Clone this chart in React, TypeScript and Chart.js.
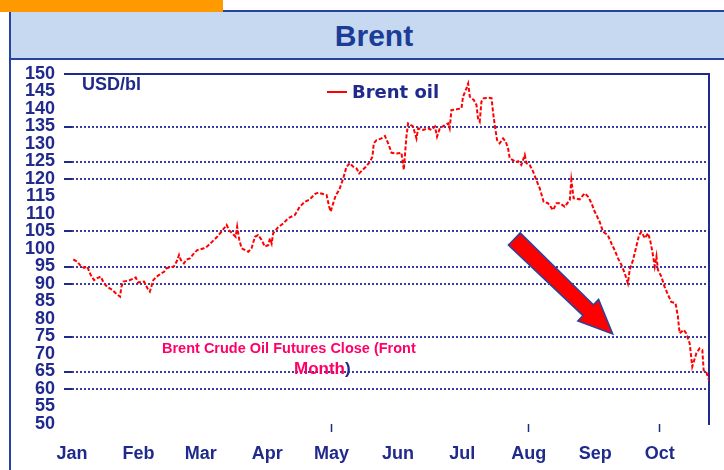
import React, { useEffect, useRef } from 'react';
import { Chart, registerables } from 'chart.js';

Chart.register(...registerables);

// ---------- data ----------
const chartTitle = 'Brent';
const unitLabel = 'USD/bl';
const seriesLabel = 'Brent oil';
const noteLine1 = 'Brent Crude Oil Futures Close (Front';
const noteLine2 = 'Month';

const monthLabels = ['Jan', 'Feb', 'Mar', 'Apr', 'May', 'Jun', 'Jul', 'Aug', 'Sep', 'Oct'];
// day-of-year (2008, Jan 1 = 0) at which each month starts
const monthStartDays = [0, 31, 60, 91, 121, 152, 182, 213, 244, 274];
const tickMarkMonths = ['May', 'Aug', 'Oct'];

const yMin = 50;
const yMax = 150;
const yStep = 5;
const xMin = 0;
const xMax = 297;
const gridValues = [135, 125, 120, 105, 95, 90, 75, 65, 60];

// day-of-year of each close
const days = [
  0.6, 2.5, 3.7, 5.6, 7.1, 8.7, 10.3, 11.8, 13.4, 14.9, 16.4, 18.8, 20.8, 22.4, 23.0, 23.9,
  26.6, 28.9, 29.7, 30.8, 33.6, 35.4, 36.3, 37.9, 39.5, 41.3, 42.9, 44.1, 47.5, 48.8, 49.9,
  50.7, 52.2, 53.4, 55.0, 56.9, 58.4, 61.5, 63.0, 65.4, 67.7, 70.0, 72.1, 73.2, 74.7, 76.3,
  77.0, 78.0, 79.1, 82.2, 83.7, 85.3, 86.8, 88.4, 89.9, 91.5, 92.3, 93.1, 93.8, 96.1, 98.5,
  100.8, 103.9, 106.2, 108.6, 110.9, 113.2, 114.8, 117.1, 118.7, 119.9, 120.6, 121.8, 123.0,
  124.6, 125.7, 126.7, 128.0, 129.5, 131.1, 132.7, 133.9, 135.5, 137.0, 138.9, 140.1, 140.7,
  142.0, 144.3, 145.9, 147.4, 149.0, 151.3, 153.6, 154.7, 155.9, 156.7, 159.0, 160.6, 161.4,
  163.7, 166.0, 167.6, 169.2, 170.2, 171.5, 173.8, 175.4, 176.1, 176.9, 179.3, 181.6, 182.3,
  183.9, 184.7, 185.5, 187.3, 188.6, 189.3, 190.1, 190.9, 192.0, 194.0, 195.6, 196.3, 197.1,
  198.2, 199.4, 201.0, 202.2, 203.3, 204.1, 205.6, 206.9, 208.0, 209.5, 211.1, 211.9, 213.4,
  215.0, 216.5, 218.1, 219.9, 221.9, 224.3, 225.9, 227.4, 229.7, 232.1, 232.8, 233.9, 236.7,
  239.0, 240.6, 242.2, 243.7, 246.0, 247.6, 249.8, 251.5, 253.0, 254.6, 256.2, 257.7, 259.2,
  260.0, 261.6, 263.1, 264.4, 265.5, 267.1, 268.6, 269.7, 270.6, 271.7, 272.5, 273.2, 274.8,
  276.3, 277.9, 279.4, 281.4, 282.5, 283.3, 285.2, 286.4, 288.0, 289.2, 291.1, 292.6, 293.9,
  294.5, 295.8, 297.3,
];

// Brent close, USD/bl
const prices = [
  97.0, 96.4, 95.4, 94.6, 95.0, 92.6, 91.1, 91.7, 92.1, 90.2, 89.2, 88.3, 87.1, 86.4, 89.1, 90.7,
  91.0, 91.6, 91.9, 90.4, 90.7, 88.5, 87.8, 91.1, 92.1, 92.9, 93.5, 94.5, 95.0, 96.4, 98.3,
  96.9, 95.9, 97.0, 97.3, 98.8, 99.7, 100.2, 100.7, 102.1, 103.5, 105.2, 106.9, 105.4, 104.5, 103.5,
  106.4, 102.6, 100.2, 99.2, 100.2, 103.5, 104.0, 102.6, 100.7, 101.1, 103.1, 101.6, 104.5, 106.2, 107.3,
  108.8, 109.7, 112.1, 113.5, 114.2, 115.7, 116.1, 115.7, 115.4, 112.1, 110.7, 113.1, 115.4,
  116.9, 118.8, 120.7, 123.5, 124.5, 123.5, 123.0, 121.6, 122.6, 123.5, 124.9, 126.4, 130.2,
  131.1, 131.6, 132.3, 130.2, 127.5, 127.3, 127.5, 122.6, 132.0, 135.9, 135.0, 131.6, 134.5,
  134.0, 134.5, 134.0, 135.0, 132.1, 134.5, 135.4, 135.9, 134.5, 139.7, 139.9, 140.2, 143.5,
  145.9, 147.3, 143.5, 142.6, 141.1, 137.3, 136.4, 142.1, 143.1, 143.2, 143.1, 139.2, 135.4,
  131.1, 130.2, 131.6, 130.7, 128.8, 125.9, 125.4, 124.8, 125.1, 124.0, 126.9, 124.5, 124.0,
  122.1, 119.7, 117.3, 113.5, 113.1, 111.1, 113.1, 113.1, 112.1, 114.0, 119.7, 114.5, 114.2,
  115.9, 115.0, 113.1, 110.7, 107.8, 104.9, 104.0, 101.6, 99.7, 97.3, 95.4, 93.1, 90.2,
  94.0, 96.9, 100.7, 104.0, 104.9, 103.1, 104.5, 102.1, 99.2, 95.0, 97.9, 94.0, 92.1,
  89.2, 86.9, 84.9, 84.5, 80.7, 75.9, 76.9, 75.9, 73.0, 66.4, 70.2, 71.6, 71.1,
  65.4, 64.7, 62.1,
];

// ---------- styles ----------
const NAVY = '#1f2a8c';
const GRID = '#3a3aa0';
const PANEL = '#2544a0';
const TITLE_BLUE = '#1b3d98';
const BAND = '#c6d9f1';
const ORANGE = '#ff9900';
const LINE_RED = '#ff0000';
const PINK = '#ff0066';

export default function App() {
  const canvasRef = useRef<HTMLCanvasElement | null>(null);

  useEffect(() => {
    const canvas = canvasRef.current;
    if (!canvas) return;
    const points = days.map((d, i) => ({ x: d, y: prices[i] }));
    const axisFont = { family: 'Liberation Sans, Arial, sans-serif', weight: 'bold' as const, size: 18 };

    const chart = new Chart(canvas, {
      type: 'line',
      data: {
        datasets: [
          {
            label: seriesLabel,
            data: points,
            borderColor: LINE_RED,
            backgroundColor: LINE_RED,
            borderWidth: 2,
            borderDash: [4, 2],
            pointRadius: 0,
            tension: 0,
            xAxisID: 'x',
            yAxisID: 'y',
          },
        ],
      },
      options: {
        responsive: false,
        maintainAspectRatio: false,
        animation: false,
        events: [],
        layout: { padding: 0 },
        plugins: {
          tooltip: { enabled: false },
          legend: { display: false },
        },
        scales: {
          x: {
            type: 'linear',
            position: 'bottom',
            min: xMin,
            max: xMax,
            afterBuildTicks: (s: any) => {
              s.ticks = monthStartDays.map((v) => ({ value: v }));
            },
            afterFit: (s: any) => {
              s.height = 46;
            },
            ticks: {
              autoSkip: false,
              maxRotation: 0,
              minRotation: 0,
              padding: 11,
              color: NAVY,
              font: axisFont,
              callback: (_v: any, i: number) => monthLabels[i],
            },
            grid: {
              display: true,
              drawOnChartArea: false,
              drawTicks: true,
              tickLength: 8,
              tickWidth: 1.5,
              tickColor: (ctx: any) =>
                ctx.index !== undefined && tickMarkMonths.includes(monthLabels[ctx.index]) ? NAVY : 'transparent',
            },
            border: { display: false },
          },
          x2: {
            type: 'linear',
            position: 'top',
            min: 0,
            max: 1,
            afterFit: (s: any) => {
              s.height = 74;
            },
            ticks: { display: false },
            grid: { display: true, drawOnChartArea: false, drawTicks: false, color: 'transparent' },
            border: { display: true, color: NAVY, width: 2 },
          },
          y: {
            type: 'linear',
            position: 'left',
            min: yMin,
            max: yMax,
            afterFit: (s: any) => {
              s.width = 72;
            },
            ticks: {
              stepSize: yStep,
              autoSkip: false,
              padding: 9,
              color: NAVY,
              font: axisFont,
            },
            grid: {
              display: true,
              drawOnChartArea: true,
              drawTicks: true,
              tickLength: 8,
              lineWidth: 2,
              tickWidth: 2,
              color: (ctx: any) => (ctx.tick && gridValues.includes(ctx.tick.value) ? GRID : 'transparent'),
              tickColor: (ctx: any) =>
                ctx.tick && (gridValues.includes(ctx.tick.value) || ctx.tick.value === yMax) ? NAVY : 'transparent',
            },
            border: { display: false, dash: [2, 2] },
          },
          y2: {
            type: 'linear',
            position: 'right',
            min: yMin,
            max: yMax,
            afterFit: (s: any) => {
              s.width = 15;
            },
            ticks: { display: false },
            grid: { display: true, drawOnChartArea: false, drawTicks: false, color: 'transparent' },
            border: { display: true, color: NAVY, width: 2 },
          },
        },
      } as any,
    });

    return () => {
      chart.destroy();
    };
  }, []);

  return (
    <div
      style={{
        position: 'absolute',
        left: 0,
        top: 0,
        width: 724,
        height: 470,
        overflow: 'hidden',
        background: '#ffffff',
        fontFamily: 'Liberation Sans, Arial, sans-serif',
      }}
    >
      {/* panel frame */}
      <div
        style={{
          position: 'absolute',
          left: 9,
          top: 10,
          width: 800,
          height: 520,
          border: `2px solid ${PANEL}`,
          boxSizing: 'border-box',
        }}
      />
      {/* title band */}
      <div style={{ position: 'absolute', left: 11, top: 12, width: 726, height: 46, background: BAND }} />
      <div style={{ position: 'absolute', left: 11, top: 58, width: 726, height: 2, background: PANEL }} />
      <div
        style={{
          position: 'absolute',
          left: 11,
          top: 21,
          width: 726,
          textAlign: 'center',
          fontWeight: 'bold',
          fontSize: 30,
          lineHeight: '30px',
          color: TITLE_BLUE,
        }}
      >
        {chartTitle}
      </div>
      {/* orange tab */}
      <div style={{ position: 'absolute', left: 0, top: 0, width: 223, height: 12, background: ORANGE }} />

      <canvas
        ref={canvasRef}
        width={724}
        height={470}
        style={{ position: 'absolute', left: 0, top: 0, width: 724, height: 470, display: 'block' }}
      />

      {/* unit label */}
      <div
        style={{
          position: 'absolute',
          left: 82,
          top: 75,
          fontWeight: 'bold',
          fontSize: 18,
          lineHeight: '18px',
          color: NAVY,
          whiteSpace: 'nowrap',
        }}
      >
        {unitLabel}
      </div>

      {/* legend */}
      <div style={{ position: 'absolute', left: 327, top: 91, width: 20, height: 2, background: LINE_RED }} />
      <div
        style={{
          position: 'absolute',
          left: 352,
          top: 83,
          fontFamily: 'DejaVu Sans, sans-serif',
          fontWeight: 'bold',
          fontSize: 18,
          lineHeight: '18px',
          color: NAVY,
          whiteSpace: 'nowrap',
        }}
      >
        {seriesLabel}
      </div>

      {/* annotation arrow */}
      <svg
        width={724}
        height={470}
        style={{ position: 'absolute', left: 0, top: 0, pointerEvents: 'none' }}
      >
        <polygon
          points="520.2,232.9 593.4,304.8 598.6,299.4 612.7,334 577.8,321 583,315.6 508.4,245.1"
          fill="#ff0000"
          stroke={PANEL}
          strokeWidth={1.5}
          strokeLinejoin="miter"
        />
      </svg>

      {/* annotation text */}
      <div
        style={{
          position: 'absolute',
          left: 162,
          top: 337,
          fontWeight: 'bold',
          fontSize: 14.5,
          lineHeight: '22px',
          color: PINK,
          whiteSpace: 'nowrap',
        }}
      >
        {noteLine1}
      </div>
      <div
        style={{
          position: 'absolute',
          left: 294,
          top: 358,
          fontWeight: 'bold',
          fontSize: 17,
          lineHeight: '22px',
          color: PINK,
          whiteSpace: 'nowrap',
        }}
      >
        {noteLine2}
        <span style={{ color: NAVY }}>)</span>
      </div>
    </div>
  );
}
